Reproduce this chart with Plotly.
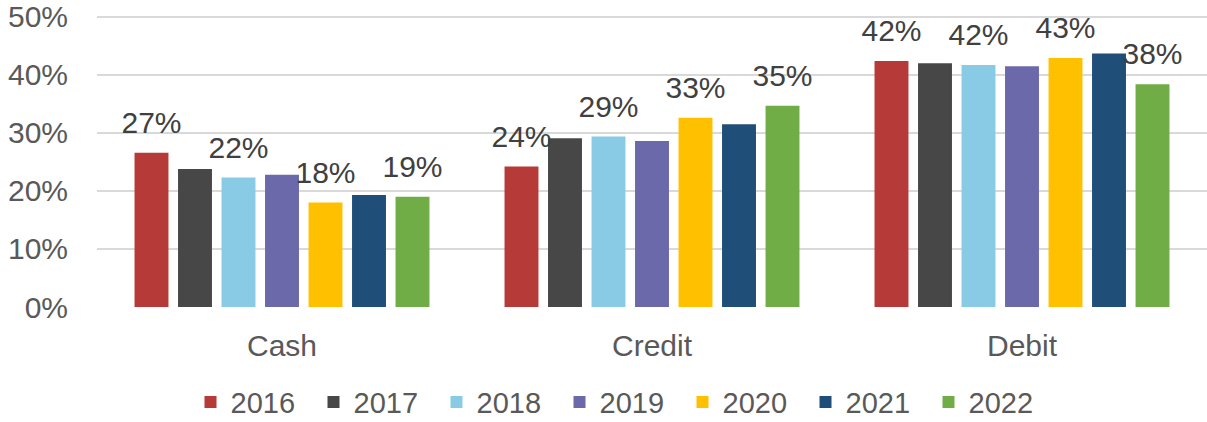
import plotly.graph_objects as go

categories = ["Cash", "Credit", "Debit"]
years = ["2016", "2017", "2018", "2019", "2020", "2021", "2022"]
v2016 = [26.6, 24.2, 42.4]
v2017 = [23.8, 29.1, 42.0]
v2018 = [22.3, 29.4, 41.7]
v2019 = [22.8, 28.6, 41.5]
v2020 = [18.0, 32.6, 42.9]
v2021 = [19.3, 31.5, 43.7]
v2022 = [19.0, 34.7, 38.4]
series = [v2016, v2017, v2018, v2019, v2020, v2021, v2022]
labeled_years = ["2016", "2018", "2020", "2022"]
colors = ["#B63A37", "#474747", "#89CBE5", "#6C69AB", "#FFC000", "#1F4E79", "#70AD47"]

FONT = "Liberation Sans, Arial, sans-serif"
GAP = 0.177

fig = go.Figure()
for yr, vals, col in zip(years, series, colors):
    fig.add_trace(go.Bar(
        name=yr, x=categories, y=vals,
        marker=dict(color=col, line=dict(width=0)),
        hoverinfo="x+y+name",
    ))
for yr, vals in zip(years, series):
    show = yr in labeled_years
    fig.add_trace(go.Scatter(
        x=categories, y=vals, mode="markers+text", orientation="v",
        text=[f"{v:.0f}%" if show else "" for v in vals],
        textposition="top center",
        textfont=dict(size=30, color="#404040", family=FONT),
        marker=dict(size=18, opacity=0),
        showlegend=False, hoverinfo="skip", cliponaxis=False,
    ))

fig.update_layout(
    width=1207, height=422,
    barmode="group", bargap=GAP, bargroupgap=0.22,
    scattermode="group", scattergap=GAP,
    margin=dict(l=97, r=0, t=12, b=115),
    plot_bgcolor="white", paper_bgcolor="white",
    font=dict(family=FONT, size=30, color="#595959"),
    showlegend=True,
    legend=dict(orientation="h", xref="container", yref="container",
                x=0.5145, xanchor="center", y=0.047, yanchor="middle",
                font=dict(size=29, color="#595959"), traceorder="normal",
                itemwidth=30, entrywidth=78),
)
fig.update_yaxes(range=[0, 50.5], tick0=0, dtick=10,
                 ticksuffix="%", showgrid=True, ticklabeloverflow="allow",
                 gridcolor="#D9D9D9", gridwidth=1.5, zeroline=False,
                 showline=False, ticks="", ticklabelstandoff=28,
                 tickfont=dict(size=30, color="#595959"))
fig.update_xaxes(showline=False, ticks="", ticklabelstandoff=18,
                 tickfont=dict(size=30, color="#595959"))

fig.write_html("out.html", config={"displayModeBar": False},
               post_script="document.body.style.margin='0';")
